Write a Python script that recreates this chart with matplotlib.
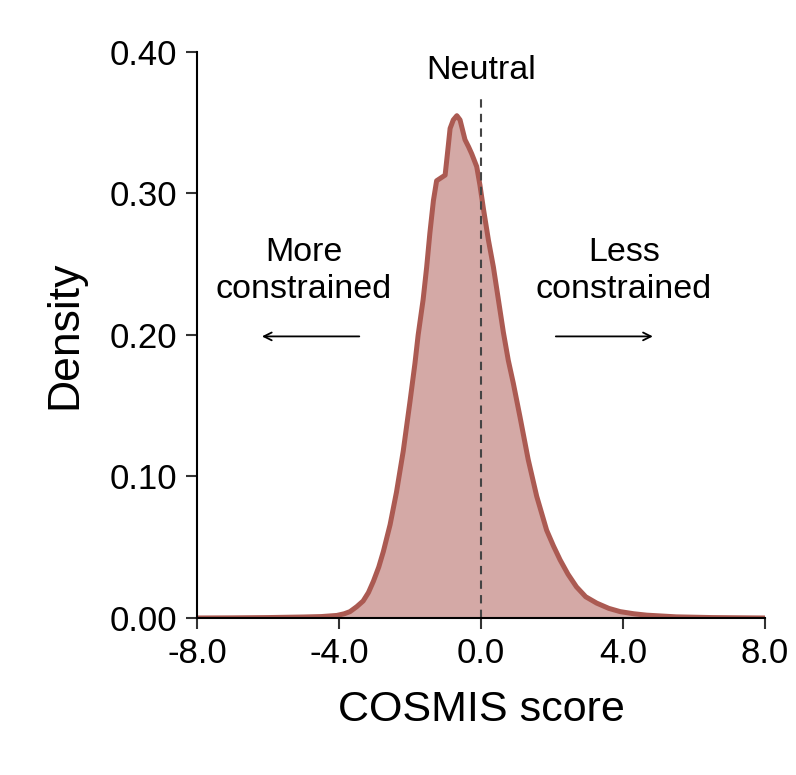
import matplotlib.pyplot as plt
from matplotlib.ticker import FormatStrFormatter

plt.rcParams['font.family'] = ['Liberation Sans', 'DejaVu Sans']
plt.rcParams['axes.unicode_minus'] = False

# density curve of COSMIS score
score = [-8.0, -7.0, -6.0, -5.0, -4.5, -4.06, -3.85, -3.69, -3.5, -3.32,
         -3.17, -3.03, -2.88, -2.75, -2.56, -2.38, -2.19, -2.0, -1.86, -1.77,
         -1.63, -1.53, -1.44, -1.34, -1.25, -1.13, -1.01, -0.92, -0.87, -0.78,
         -0.68, -0.59, -0.45, -0.35, -0.26, -0.12, -0.03, 0.07, 0.21, 0.35,
         0.49, 0.63, 0.77, 0.91, 1.10, 1.33, 1.57, 1.85, 2.04, 2.23, 2.45,
         2.69, 2.95, 3.26, 3.6, 3.92, 4.3, 4.67, 5.5, 6.5, 8.0]
density = [0.0, 0.0001, 0.0003, 0.0007, 0.001, 0.0018, 0.003, 0.0045, 0.008,
           0.012, 0.018, 0.026, 0.036, 0.047, 0.066, 0.089, 0.118, 0.153,
           0.180, 0.200, 0.225, 0.248, 0.272, 0.295, 0.309, 0.311, 0.313,
           0.334, 0.346, 0.352, 0.355, 0.352, 0.338, 0.333, 0.328, 0.319,
           0.306, 0.289, 0.267, 0.248, 0.225, 0.202, 0.182, 0.166, 0.142,
           0.112, 0.086, 0.062, 0.051, 0.041, 0.031, 0.022, 0.015, 0.0105,
           0.0068, 0.0045, 0.003, 0.002, 0.0008, 0.0003, 0.0]

x_ticks = [-8.0, -4.0, 0.0, 4.0, 8.0]
y_ticks = [0.0, 0.1, 0.2, 0.3, 0.4]

line_color = '#AB5A52'
fill_color = '#D4A9A6'

fig = plt.figure(figsize=(7.96, 7.75), dpi=100)
ax = fig.add_axes([0.2475, 0.2026, 0.7135, 0.7303])

ax.fill_between(score, density, 0, color=fill_color, linewidth=0)
ax.plot(score, density, color=line_color, linewidth=3.6,
        solid_joinstyle='round', solid_capstyle='round')

# neutral line
ax.plot([0, 0], [0, 0.368], color='#444444', linestyle=(0, (4, 3)), linewidth=1.5)
ax.text(0, 0.387, 'Neutral', ha='center', va='center', fontsize=24.5)

ax.text(-5.0, 0.245, 'More\nconstrained', ha='center', va='center',
        fontsize=24.5, linespacing=1.25)
ax.text(4.03, 0.245, 'Less\nconstrained', ha='center', va='center',
        fontsize=24.5, linespacing=1.25)
arrow = dict(arrowstyle='->', color='black', lw=1.3, mutation_scale=14)
ax.annotate('', xy=(-6.25, 0.199), xytext=(-3.35, 0.199), arrowprops=arrow)
ax.annotate('', xy=(4.92, 0.199), xytext=(2.03, 0.199), arrowprops=arrow)

ax.set_xlim(-8, 8)
ax.set_ylim(0, 0.40)
ax.set_xticks(x_ticks)
ax.set_yticks(y_ticks)
ax.xaxis.set_major_formatter(FormatStrFormatter('%.1f'))
ax.yaxis.set_major_formatter(FormatStrFormatter('%.2f'))
ax.tick_params(axis='both', direction='out', length=8, width=1.5,
               labelsize=25, pad=6, color='#333333')

for side in ['top', 'right']:
    ax.spines[side].set_visible(False)
for side in ['left', 'bottom']:
    ax.spines[side].set_linewidth(1.5)

ax.set_xlabel('COSMIS score', fontsize=31, labelpad=14)
ax.set_ylabel('Density', fontsize=32, labelpad=18)

fig.savefig('out.png', dpi=100)
